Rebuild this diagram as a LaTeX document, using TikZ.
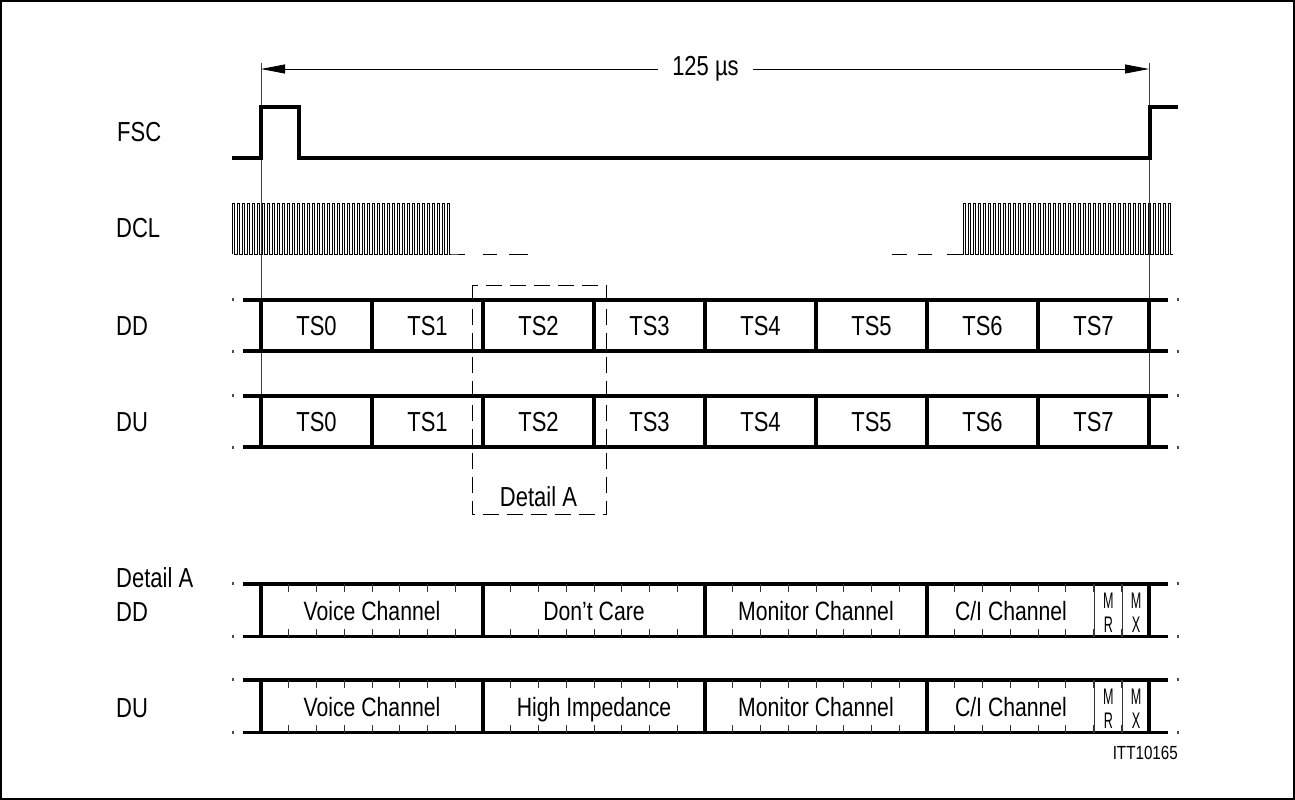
\documentclass[tikz,border=0pt]{standalone}
\usepackage{fontspec}
\setmainfont{Liberation Sans}[FakeStretch=0.8]
\newfontfamily\narrowfont{Liberation Sans}[FakeStretch=0.56]
\usetikzlibrary{arrows.meta}
\begin{document}
\begin{tikzpicture}[x=1pt,y=-1pt,
  heavy/.style={line width=3.5pt},
  fine/.style={line width=1pt},
  refline/.style={line width=0.8pt, black!75},
  tick/.style={line width=0.9pt, black!80},
  dotmark/.style={fill=black!70},
  lbl/.style={font=\fontsize{27.5}{30}\selectfont, inner sep=0pt, text height=19.7pt, text depth=0pt},
  dlbl/.style={font=\fontsize{26.5}{30}\selectfont, inner sep=0pt, text height=19pt, text depth=0pt},
  mlbl/.style={font=\narrowfont\fontsize{22.5}{22}\selectfont, inner sep=0pt, text height=16.1pt, text depth=0pt},
  dashbox/.style={line width=1pt, dash pattern=on 16pt off 8pt}]
\useasboundingbox (0,0) rectangle (1295,800);
\draw[line width=2pt] (1,1) rectangle (1294,799);

% reference verticals
\coordinate (vl1) at (261,63); \coordinate (vl2) at (261,448);
\coordinate (vr1) at (1149,63); \coordinate (vr2) at (1149,448);
\draw[refline] (vl1) -- (vl2);
\draw[refline] (vr1) -- (vr2);

% period arrow
\coordinate (a1) at (261,69); \coordinate (a2) at (1149,69);
\draw[{Triangle[length=24pt,width=9pt]}-{Triangle[length=24pt,width=9pt]}, line width=0.9pt] (a1) -- (a2);
\node[lbl, fill=white, inner xsep=14pt, inner ysep=2pt] (period) at (705.5,66) {125 µs};

% signal labels
\node[lbl, anchor=west] (lfsc) at (117,132) {FSC};
\node[lbl, anchor=west] (ldcl) at (116,228) {DCL};
\node[lbl, anchor=west] (ldd) at (116,326) {DD};
\node[lbl, anchor=west] (ldu) at (116,422) {DU};
\node[lbl, anchor=west] (ldet) at (116,578) {Detail\ A};
\node[lbl, anchor=west] (ldd2) at (116,612) {DD};
\node[lbl, anchor=west] (ldu2) at (116,708) {DU};

% FSC
\draw[heavy] (232,158) -- (261,158) -- (261,107) -- (299,107) -- (299,158) -- (1150,158) -- (1150,107) -- (1178,107);

% DCL
\draw[fine] (232,254) foreach \i in {1,...,44} { -- ++(0,-51) -- ++(2.5,0) -- ++(0,51) -- ++(2.5,0) } -- (465,254);
\draw[fine] (483,254) -- (497,254);
\draw[fine] (509,254) -- (528,254);
\draw[fine] (892,254) -- (907,254);
\draw[fine] (918,254) -- (932,254);
\draw[fine] (947,254) -- (963,254) foreach \i in {1,...,42} { -- ++(0,-51) -- ++(2.5,0) -- ++(0,51) -- ++(2.5,0) };

% frame rows
\foreach \y/\r in {300/dd,396/du} {
  \draw[heavy] (243,\y) -- (1168,\y);
  \draw[heavy] (243,\y+51) -- (1168,\y+51);
  \fill[dotmark] (232,\y-2) rectangle (234,\y+1);
  \fill[dotmark] (232,\y+50) rectangle (234,\y+53);
  \fill[dotmark] (1177,\y-2) rectangle (1179,\y+1);
  \fill[dotmark] (1177,\y+50) rectangle (1179,\y+53);
  \foreach \k in {0,...,8} {
    \draw[heavy] (261+111*\k,\y) -- (261+111*\k,\y+51);
  }
  \foreach \k in {0,...,7} {
    \node[lbl] (\r-ts\k) at (316.5+111*\k,\y+25.5) {TS\k};
  }
}

% Detail A box
\draw[dashbox] (472,285) rectangle (606,514);
\node[lbl] (detA) at (538.5,497) {Detail\ A};

% detail rows
\foreach \y/\r/\second in {584/ddd/{Don’t Care},680/dud/{High Impedance}} {
  \draw[heavy] (243,\y) -- (1168,\y);
  \draw[heavy] (243,\y+52.5) -- (1168,\y+52.5);
  \fill[dotmark] (232,\y-2) rectangle (234,\y+1);
  \fill[dotmark] (232,\y+51) rectangle (234,\y+54);
  \fill[dotmark] (1177,\y-2) rectangle (1179,\y+1);
  \fill[dotmark] (1177,\y+51) rectangle (1179,\y+54);
  \foreach \s in {0,...,3} {
    \foreach \b in {1,...,7} {
      \draw[tick] (261+222*\s+27.75*\b,\y) -- ++(0,8);
      \draw[tick] (261+222*\s+27.75*\b,\y+52.5) -- ++(0,-8);
    }
  }
  \draw[tick] (1094.5,\y) -- (1094.5,\y+52.5);
  \draw[tick] (1122.25,\y) -- (1122.25,\y+52.5);
  \foreach \k in {0,...,4} {
    \draw[heavy] (261+222*\k,\y) -- (261+222*\k,\y+52.5);
  }
  \node[dlbl] (\r-voice) at (372,\y+26.5) {Voice Channel};
  \node[dlbl] (\r-two) at (594,\y+26.5) {\second};
  \node[dlbl] (\r-mon) at (816,\y+26.5) {Monitor Channel};
  \node[dlbl] (\r-ci) at (1011,\y+26.5) {C/I Channel};
  \node[mlbl] (\r-m1) at (1108.4,\y+16.5) {M};
  \node[mlbl] (\r-r) at (1108.4,\y+40) {R};
  \node[mlbl] (\r-m2) at (1136,\y+16.5) {M};
  \node[mlbl] (\r-x) at (1136,\y+40) {X};
}

\node[font=\fontsize{19}{22}\selectfont, inner sep=0pt, anchor=east, text height=13.6pt, text depth=0pt] (code) at (1178,752.5) {ITT10165};
\end{tikzpicture}
\end{document}
